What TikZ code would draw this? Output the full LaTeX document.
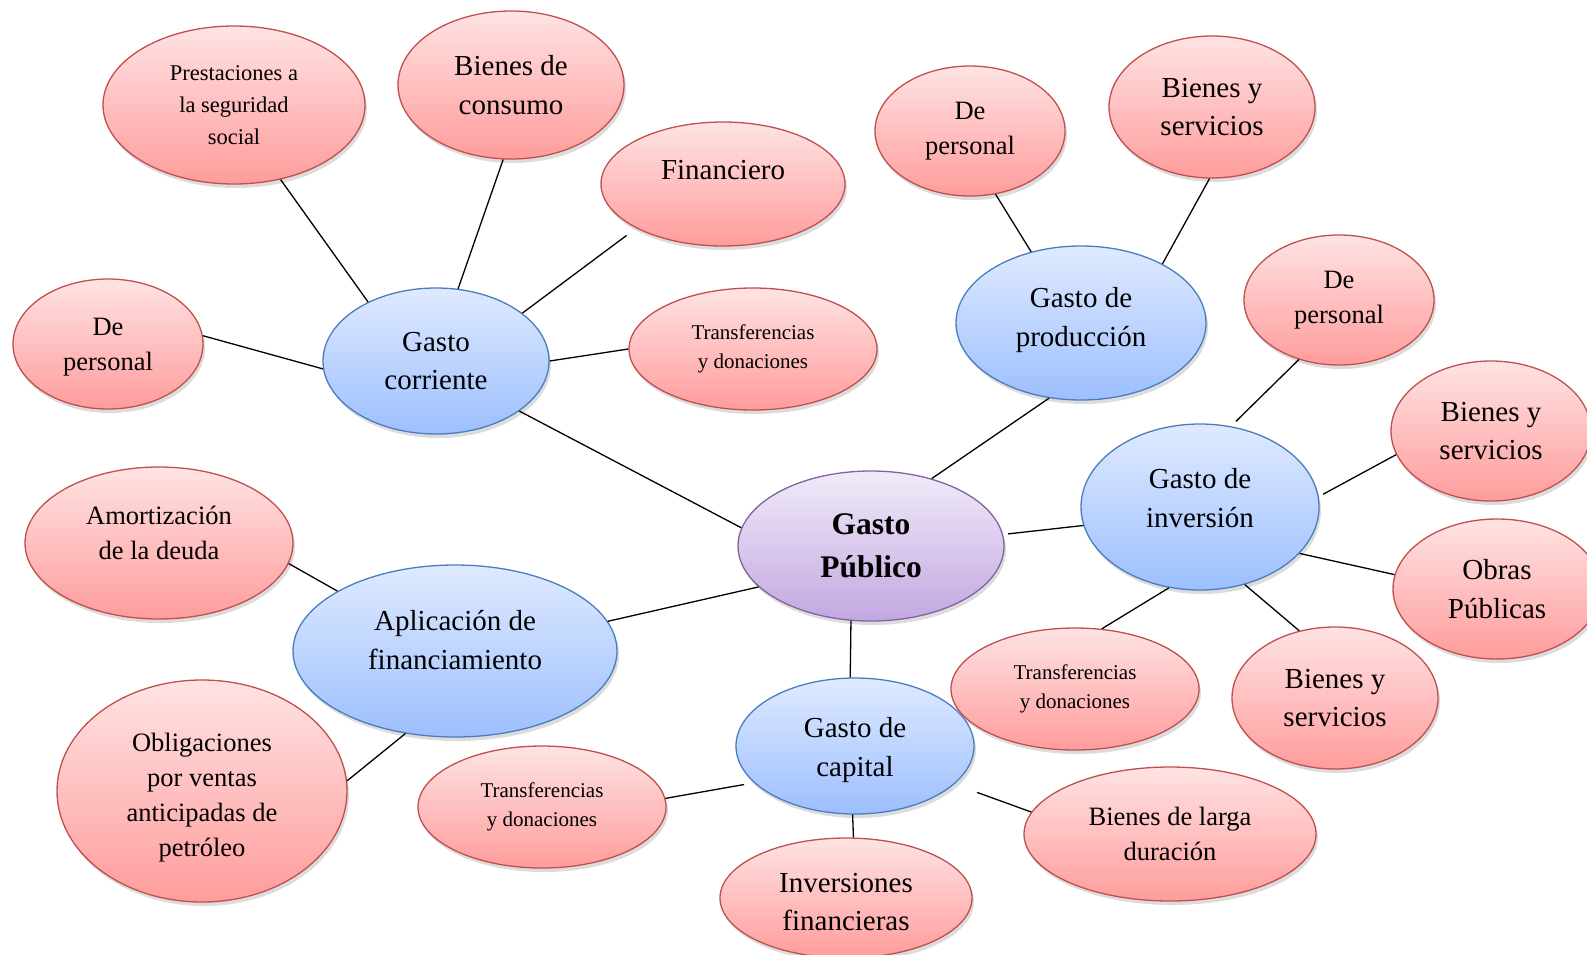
\documentclass[tikz,border=0pt]{standalone}
\usepackage{fontspec}
\setmainfont{Liberation Serif}
\usetikzlibrary{shapes.geometric,shadows}
\definecolor{redtop}{HTML}{FFE3E3}
\definecolor{redbot}{HTML}{FF9C9C}
\definecolor{redline}{HTML}{C0504D}
\definecolor{bluetop}{HTML}{DFEAFF}
\definecolor{bluebot}{HTML}{9DBFFF}
\definecolor{blueline}{HTML}{4A7EBB}
\definecolor{purtop}{HTML}{F1EBF8}
\definecolor{purbot}{HTML}{C2A7E1}
\definecolor{purline}{HTML}{8064A2}
\tikzset{
  bub/.style={ellipse, inner sep=0pt, align=center, line width=1.3pt,
    drop shadow={opacity=0.28, shadow xshift=2pt, shadow yshift=-4pt}},
  redb/.style={bub, draw=redline, top color=redtop, bottom color=redbot},
  blueb/.style={bub, draw=blueline, top color=bluetop, bottom color=bluebot},
  purb/.style={bub, draw=purline, top color=purtop, bottom color=purbot},
  big/.style={font=\fontsize{29}{38.5}\selectfont},
  mid/.style={font=\fontsize{26.5}{35}\selectfont},
  sma/.style={font=\fontsize{21}{29}\selectfont},
  pre/.style={font=\fontsize{22.5}{32}\selectfont},
  ctr/.style={font=\fontsize{31.5}{42.5}\selectfont\bfseries},
  lab/.style={align=center, inner sep=0pt},
  link/.style={line width=1.3pt, black},
}
\begin{document}
\begin{tikzpicture}[x=1pt,y=-1pt]
\useasboundingbox (0,0) rectangle (1587,954);
\clip (0,0) rectangle (1587,954);
% main nodes
\node[purb, ctr, minimum width=266pt, minimum height=150pt] (gp) at (871,546) {Gasto\\Público};
\node[blueb, big, minimum width=226pt, minimum height=146pt] (gc) at (436,361) {Gasto\\corriente};
\node[blueb, minimum width=250pt, minimum height=154pt,
  label={[lab, big, yshift=3pt]center:Gasto de\\producción}] (gpr) at (1081,323) {};
\node[blueb, minimum width=238pt, minimum height=166pt,
  label={[lab, big, yshift=9pt]center:Gasto de\\inversión}] (gi) at (1200,507) {};
\node[blueb, minimum width=324pt, minimum height=172pt,
  label={[lab, big, yshift=11pt]center:Aplicación de\\financiamiento}] (af) at (455,651) {};
\node[blueb, minimum width=238pt, minimum height=136pt,
  label={[lab, big, yshift=-4pt]center:Gasto de\\capital}] (gk) at (855,746) {};
% leaves
\node[redb, pre, minimum width=262pt, minimum height=158pt] (pr) at (234,105) {Prestaciones a\\la seguridad\\social};
\node[redb, big, minimum width=226pt, minimum height=148pt] (bc) at (511,85) {Bienes de\\consumo};
\node[redb, minimum width=244pt, minimum height=124pt,
  label={[lab, big, yshift=14pt]center:Financiero}] (fi) at (723,184) {};
\node[redb, sma, minimum width=248pt, minimum height=122pt] (t1) at (753,349) {Transferencias\\y donaciones};
\node[redb, minimum width=190pt, minimum height=130pt,
  label={[lab, mid, yshift=-3pt]center:De\\personal}] (dp1) at (108,344) {};
\node[redb, mid, minimum width=190pt, minimum height=130pt] (dp2) at (970,131) {De\\personal};
\node[redb, big, minimum width=206pt, minimum height=142pt] (bs1) at (1212,107) {Bienes y\\servicios};
\node[redb, mid, minimum width=190pt, minimum height=130pt] (dp3) at (1339,300) {De\\personal};
\node[redb, big, minimum width=200pt, minimum height=140pt] (bs2) at (1491,431) {Bienes y\\servicios};
\node[redb, big, minimum width=208pt, minimum height=140pt] (op) at (1497,589) {Obras\\Públicas};
\node[redb, big, minimum width=206pt, minimum height=142pt] (bs3) at (1335,698) {Bienes y\\servicios};
\node[redb, sma, minimum width=248pt, minimum height=122pt] (t2) at (1075,689) {Transferencias\\y donaciones};
\node[redb, mid, minimum width=292pt, minimum height=134pt] (bl) at (1170,834) {Bienes de larga\\duración};
\node[redb, minimum width=252pt, minimum height=120pt,
  label={[lab, big, yshift=-4pt]center:Inversiones\\financieras}] (inf) at (846,898) {};
\node[redb, sma, minimum width=248pt, minimum height=122pt] (t3) at (542,807) {Transferencias\\y donaciones};
\node[redb, minimum width=268pt, minimum height=152pt,
  label={[lab, mid, yshift=10pt]center:Amortización\\de la deuda}] (am) at (159,543) {};
\node[redb, minimum width=290pt, minimum height=222pt,
  label={[lab, mid, yshift=-7pt]center:Obligaciones\\por ventas\\anticipadas de\\petróleo}] (ob) at (202,791) {};
% connectors
\draw[link] (gc.139) -- (pr.-58);
\draw[link] (gc.73) -- (bc.-96);
\draw[link, shorten >=12pt] (gc.29) -- (fi.-153);
\draw[link] (gc.0) -- (t1.180);
\draw[link] (gc.184) -- (dp1.5);
\draw[link] (gc.-31) -- (gp.172);
\draw[link] (gp.48) -- (gpr.-113);
\draw[link] (gpr.125) -- (dp2.-68);
\draw[link] (gpr.36) -- (bs1.-92);
\draw[link, shorten <=5pt] (gp.5) -- (gi.189);
\draw[link, shorten <=7pt] (gi.69) -- (dp3.-124);
\draw[link, shorten <=5pt] (gi.5) -- (bs2.194);
\draw[link] (gi.-25) -- (op.172);
\draw[link] (gi.-60) -- (bs3.118);
\draw[link] (gi.-111) -- (t2.66);
\draw[link] (gp.-105) -- (gk.94);
\draw[link, shorten <=10pt] (gk.200) -- (t3.4);
\draw[link] (gk.-92) -- (inf.83);
\draw[link, shorten <=24pt] (gk.-21) -- (bl.171);
\draw[link] (gp.200) -- (af.11);
\draw[link] (af.153) -- (am.-9);
\draw[link] (af.-121) -- (ob.4);
\end{tikzpicture}
\end{document}
